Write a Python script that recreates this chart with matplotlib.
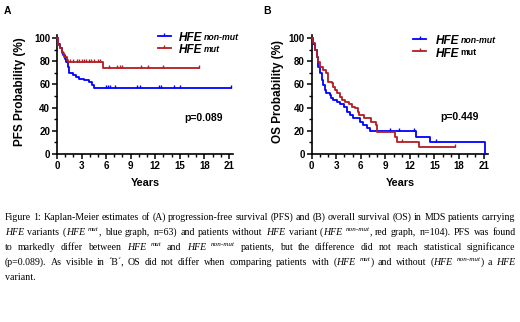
import re
import numpy as np
import matplotlib
matplotlib.use('Agg')
import matplotlib.pyplot as plt
from matplotlib.path import Path

# ---- data ----
# panel A, PFS
a_non_t = [0, 0.15, 0.37, 0.55, 0.77, 0.95, 1.1, 1.38, 1.46, 1.9, 2.3, 2.7, 3.3, 3.9, 4.3, 4.5]
a_non_s = [100, 95, 91, 88, 85, 82, 79.6, 75, 69.5, 68, 66.7, 65, 63.8, 62.4, 59.5, 56.6]
a_non_end = 21.2
a_non_cens = [6.0, 6.2, 6.5, 7.1, 9.8, 10.1, 12.5, 12.7, 14.3, 15.0, 21.2]

a_mut_t = [0, 0.16, 0.37, 0.57, 0.85, 1.2, 1.4, 5.6]
a_mut_s = [100, 94, 91, 87, 84, 81, 79.6, 73.9]
a_mut_end = 17.4
a_mut_cens = [1.6, 2.0, 2.4, 2.7, 3.0, 3.3, 3.6, 3.9, 4.1, 4.5, 5.0, 5.3,
              6.3, 7.3, 7.7, 7.9, 10.3, 11.1, 13.0, 17.4]

# panel B, OS
b_non_t = [0, 0.2, 0.4, 0.6, 0.8, 1.0, 1.2, 1.4, 1.6, 1.8, 2.2, 2.4, 2.65, 3.06, 3.5,
           3.9, 4.3, 4.7, 5.1, 5.9, 6.3, 6.7, 7.1, 12.7, 14.5, 21.2]
b_non_s = [100, 95, 89.7, 84, 75, 69.5, 63.8, 59.5, 55, 52.3, 50.9, 48, 46.6, 45, 43,
           40.8, 36.5, 33.6, 30.7, 28, 25, 22, 20, 15, 10, 0]
b_non_end = 21.2
b_non_cens = [9.6, 10.7, 12.5, 15.2]

b_mut_t = [0, 0.2, 0.4, 0.6, 0.8, 1.0, 1.4, 1.8, 2.0, 2.45, 2.65, 2.86, 3.06, 3.5, 3.7,
           4.1, 4.5, 4.9, 5.3, 5.6, 5.8, 6.4, 7.3, 7.8, 8.0, 10.2, 10.4, 13.1]
b_mut_s = [100, 95.4, 89.7, 84, 79.6, 75.3, 72.4, 69.5, 62.4, 61, 58, 55, 52.3, 49.4, 46.6,
           45, 43, 40.8, 39.4, 36.5, 33.6, 31, 28, 25, 19.3, 15, 10.6, 5.7]
b_mut_end = 17.5
b_mut_cens = [11.0, 17.5]

p_a = 'p=0.089'
p_b = 'p=0.449'

caption = [
    "Figure 1: Kaplan-Meier estimates of (A) progression-free survival (PFS) and (B) overall survival (OS) in MDS patients carrying",
    "*HFE* variants (*HFE* ^mut^, blue graph, n=63) and patients without *HFE* variant (*HFE* ^non-mut^, red graph, n=104). PFS was found",
    "to markedly differ between *HFE* ^mut^ and *HFE* ^non-mut^ patients, but the difference did not reach statistical significance",
    "(p=0.089). As visible in \u00b4B\u00b4, OS did not differ when comparing patients with (*HFE* ^mut^) and without (*HFE* ^non-mut^) a *HFE*",
    "variant.",
]

BLUE = '#0000ff'
RED = '#b01e23'
W, H = 520, 322

plt.rcParams['font.family'] = 'Liberation Sans'
plt.rcParams['font.weight'] = 'bold'

fig = plt.figure(figsize=(W / 100, H / 100), dpi=100)

tick = Path([(0, 0), (0, 1)], [Path.MOVETO, Path.LINETO])


def km(ax, t, s, end, cens, color):
    t = np.array(t, float)
    s = np.array(s, float)
    ax.step(np.append(t, end), np.append(s, s[-1]), where='post', color=color, lw=1.3,
            clip_on=False, zorder=3)
    c = np.array(cens, float)
    lv = s[np.searchsorted(t, c, side='right') - 1]
    ax.plot(c, lv, ls='none', marker=tick, ms=5, mew=1.0, color=color, clip_on=False, zorder=3)


def legend_entry(ax, x0, x1, xt, y, color, sup, sup_style):
    ax.plot([x0, x1], [y, y], color=color, lw=1.3, clip_on=False)
    ax.plot([(x0 + x1) / 2], [y], marker=tick, ms=5, mew=1.0, color=color, clip_on=False)
    t = ax.text(xt, y - 2.0, 'HFE', fontsize=8.5, fontweight='bold', fontstyle='italic',
                va='center', ha='left', clip_on=False)
    ax.annotate(sup, xy=(1, 1), xycoords=t, xytext=(1.2, -0.5), textcoords='offset points',
                fontsize=6.3, fontweight='bold', fontstyle=sup_style, va='top', ha='left')


def setup(ax):
    ax.set_xlim(0, 21.5)
    ax.set_ylim(0, 102.6)
    ax.spines['top'].set_visible(False)
    ax.spines['right'].set_visible(False)
    for sp in ('left', 'bottom'):
        ax.spines[sp].set_linewidth(1.2)
    ax.set_xticks(np.arange(0, 22, 3))
    ax.set_xticks(np.arange(0, 22, 1), minor=True)
    ax.set_yticks(np.arange(0, 101, 20))
    ax.set_yticks(np.arange(0, 101, 10), minor=True)
    ax.tick_params(which='major', length=3.5, width=1.1, labelsize=7, pad=1.5)
    ax.tick_params(which='minor', length=2, width=1.0)
    for lb in ax.get_xticklabels() + ax.get_yticklabels():
        lb.set_fontweight('bold')


def px(x, y):
    return x / W, 1 - y / H


axA = fig.add_axes([57 / W, 1 - 154 / H, 176 / W, 119 / H])
axB = fig.add_axes([311.7 / W, 1 - 154 / H, 176 / W, 119 / H])
setup(axA)
setup(axB)

km(axA, a_non_t, a_non_s, a_non_end, a_non_cens, BLUE)
km(axA, a_mut_t, a_mut_s, a_mut_end, a_mut_cens, RED)
km(axB, b_non_t, b_non_s, b_non_end, b_non_cens, BLUE)
km(axB, b_mut_t, b_mut_s, b_mut_end, b_mut_cens, RED)

legend_entry(axA, 12.3, 13.9, 14.9, 101.7, BLUE, 'non-mut', 'italic')
legend_entry(axA, 12.3, 13.9, 14.9, 91.8, RED, 'mut', 'italic')
legend_entry(axB, 12.4, 14.0, 15.1, 99.5, BLUE, 'non-mut', 'italic')
legend_entry(axB, 12.4, 14.0, 15.1, 88.5, RED, 'mut', 'normal')

axA.text(15.5, 31.3, p_a, fontsize=7.5, fontweight='bold', va='center', ha='left')
axB.text(15.7, 31.6, p_b, fontsize=7.5, fontweight='bold', va='center', ha='left')

fig.text(*px(4, 11.5), 'A', fontsize=7.5, fontweight='bold', va='center', ha='left')
fig.text(*px(263, 11.5), 'B', fontsize=7.5, fontweight='bold', va='center', ha='left')
fig.text(*px(20, 91.5), 'PFS Probability (%)', fontsize=8.5, fontweight='bold',
         rotation=90, va='center', ha='center')
fig.text(*px(278, 91.5), 'OS Probability (%)', fontsize=8.5, fontweight='bold',
         rotation=90, va='center', ha='center')
fig.text(*px(145, 182.5), 'Years', fontsize=7.8, fontweight='bold', va='center', ha='center')
fig.text(*px(400, 182.5), 'Years', fontsize=7.8, fontweight='bold', va='center', ha='center')


# ---- caption, justified by hand ----
def parse(word):
    out = []
    for p in re.split(r'(\*[^*]+\*|\^[^^]+\^)', word):
        if not p:
            continue
        if p[0] == '*':
            out.append((p[1:-1], 'i'))
        elif p[0] == '^':
            out.append((p[1:-1], 's'))
        else:
            out.append((p, 'n'))
    return out


rend = fig.canvas.get_renderer()
serif = 'Liberation Serif'
x_left, x_right = 5.0, 515.5
base0, dy = 219.5, 15.2


def make(txt, st, size):
    return fig.text(0, 0, txt, fontsize=size * 0.72 if st == 's' else size,
                    fontstyle='italic' if st in 'is' else 'normal', fontweight='normal',
                    family=serif, va='baseline', ha='left')


def measure(line, size):
    words = []
    for w in line.split(' '):
        arts = [(make(txt, st, size), st) for txt, st in parse(w)]
        ws = [a.get_window_extent(rend).width for a, _ in arts]
        words.append((arts, ws))
    return words


def space_w(size):
    t1 = make('a a', 'n', size)
    t2 = make('aa', 'n', size)
    s = t1.get_window_extent(rend).width - t2.get_window_extent(rend).width
    t1.remove()
    t2.remove()
    return s


# pick the size at which the first line fills the column with ordinary spaces
probe = measure(caption[0], 8.0)
natural = sum(sum(ws) for _, ws in probe) + space_w(8.0) * (len(probe) - 1)
for arts, _ in probe:
    for a, _ in arts:
        a.remove()
cap_size = 8.0 * (x_right - x_left) / natural
space = space_w(cap_size)

for k, line in enumerate(caption):
    words = measure(line, cap_size)
    total = sum(sum(ws) for _, ws in words)
    if k < len(caption) - 1 and len(words) > 1:
        gap = (x_right - x_left - total) / (len(words) - 1)
    else:
        gap = space
    x = x_left
    yb = base0 + k * dy
    for arts, ws in words:
        for (a, st), wpx in zip(arts, ws):
            y = yb - (3.8 if st == 's' else 0)
            a.set_position(px(x, y))
            x += wpx
        x += gap

fig.savefig('out.png', dpi=100)
